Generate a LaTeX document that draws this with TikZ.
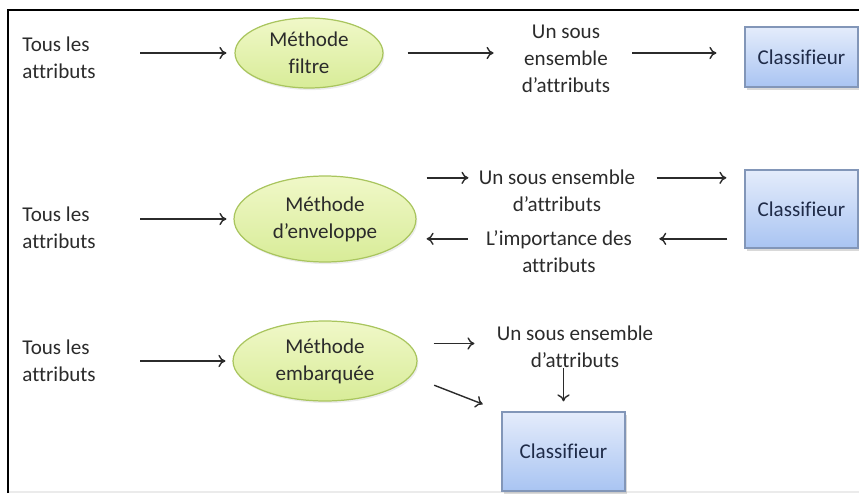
\documentclass[tikz,border=0pt]{standalone}
\usepackage{fontspec}
\setmainfont{Carlito}[Ligatures={NoCommon}]
\usetikzlibrary{shapes.geometric,shadows,arrows.meta}

\definecolor{txtgray}{HTML}{2B2B2B}
\definecolor{ellfilla}{HTML}{F0F8C8}
\definecolor{ellfillb}{HTML}{D8EC98}
\definecolor{elldraw}{HTML}{A9C55E}
\definecolor{boxfilla}{HTML}{E4ECFB}
\definecolor{boxfillb}{HTML}{A9C4F2}
\definecolor{boxdraw}{HTML}{8296B8}
\definecolor{boxtxt}{HTML}{1F2B48}

\tikzset{
  txt/.style={font=\fontsize{12pt}{15.4pt}\selectfont, text=txtgray, inner sep=0pt, align=center},
  meth/.style={txt, ellipse, draw=elldraw, line width=0.7pt, top color=ellfilla, bottom color=ellfillb,
    drop shadow={shadow xshift=0.8pt, shadow yshift=-1.2pt, opacity=0.15}},
  clf/.style={txt, rectangle, draw=boxdraw, line width=0.7pt, text=boxtxt, top color=boxfilla, bottom color=boxfillb,
    drop shadow={shadow xshift=1pt, shadow yshift=-1.5pt, opacity=0.3}},
  arr/.style={-{To[length=4pt,width=7pt]}, line width=0.8pt, draw=txtgray},
}

\begin{document}
\begin{tikzpicture}[x=0.02cm,y=-0.02cm]
\useasboundingbox (0,0) rectangle (859,497);
% frame
\draw[line width=1.2pt] (8,493) -- (8,10) -- (859,10);
\draw[black!8,line width=0.6pt] (9,492) -- (859,492);

% filtre
\node[txt,align=left,anchor=west] (tous1) at (22,58) {Tous les\\attributs};
\node[meth,minimum width=2.96cm,minimum height=1.4cm] (filtre) at (309,53) {Méthode\\filtre};
\node[txt] (sous1) at (566,59) {Un sous\\ensemble\\d’attributs};
\node[clf,minimum width=2.26cm,minimum height=1.2cm] (clf1) at (801.5,57) {Classifieur};
\draw[arr,shorten <=0.88cm,shorten >=0.16cm] (tous1.east |- filtre) -- (filtre);
\draw[arr,shorten <=0.48cm,shorten >=0.56cm] (filtre) -- (filtre -| sous1.west);
\draw[arr,shorten <=0.44cm,shorten >=0.56cm] (sous1.east |- filtre) -- (clf1.west |- filtre);

% enveloppe
\node[txt,align=left,anchor=west] (tous2) at (22,228) {Tous les\\attributs};
\node[meth,minimum width=3.64cm,minimum height=1.72cm] (env) at (325,219) {Méthode\\d’enveloppe};
\node[txt] (sous2) at (557,191) {Un sous ensemble\\d’attributs};
\node[txt] (imp2) at (559,252) {L’importance des\\attributs};
\node[clf,minimum width=2.26cm,minimum height=1.56cm] (clf2) at (801.5,209) {Classifieur};
\draw[arr,shorten <=0.88cm,shorten >=0.14cm] (tous2.east |- env) -- (env);
\draw[arr,shorten <=0.2cm,shorten >=0.2cm] ([yshift=7.5pt]sous2.west -| env.east) -- ([yshift=7.5pt]sous2.west);
\draw[arr,shorten <=0.42cm,shorten >=0.36cm] ([yshift=7.5pt]sous2.east) -- ([yshift=7.5pt]sous2.east -| clf2.west);
\draw[arr,shorten <=0.34cm,shorten >=0.54cm] ([yshift=7.5pt]imp2.east -| clf2.west) -- ([yshift=7.5pt]imp2.east);
\draw[arr,shorten <=0.36cm,shorten >=0.2cm] ([yshift=7.5pt]imp2.west) -- ([yshift=7.5pt]imp2.west -| env.east);

% embarquee
\node[txt,align=left,anchor=west] (tous3) at (22,361) {Tous les\\attributs};
\node[meth,minimum width=3.68cm,minimum height=1.6cm] (emb) at (325,361) {Méthode\\embarquée};
\node[txt] (sous3) at (575,347) {Un sous ensemble\\d’attributs};
\node[clf,minimum width=2.46cm,minimum height=1.58cm] (clf3) at (563.5,451.5) {Classifieur};
\draw[arr,shorten <=0.88cm,shorten >=0.14cm] (tous3.east |- emb) -- (emb);
\draw[arr,shorten <=0.32cm,shorten >=0.44cm] ([yshift=2pt]sous3.west -| emb.east) -- ([yshift=2pt]sous3.west);
\draw[arr,shorten <=0.5cm,shorten >=0.4cm] (emb.-10) -- (clf3.north west);
\draw[arr,shorten >=0.2cm] (sous3.south -| clf3.north) -- (clf3.north);
\end{tikzpicture}
\end{document}
